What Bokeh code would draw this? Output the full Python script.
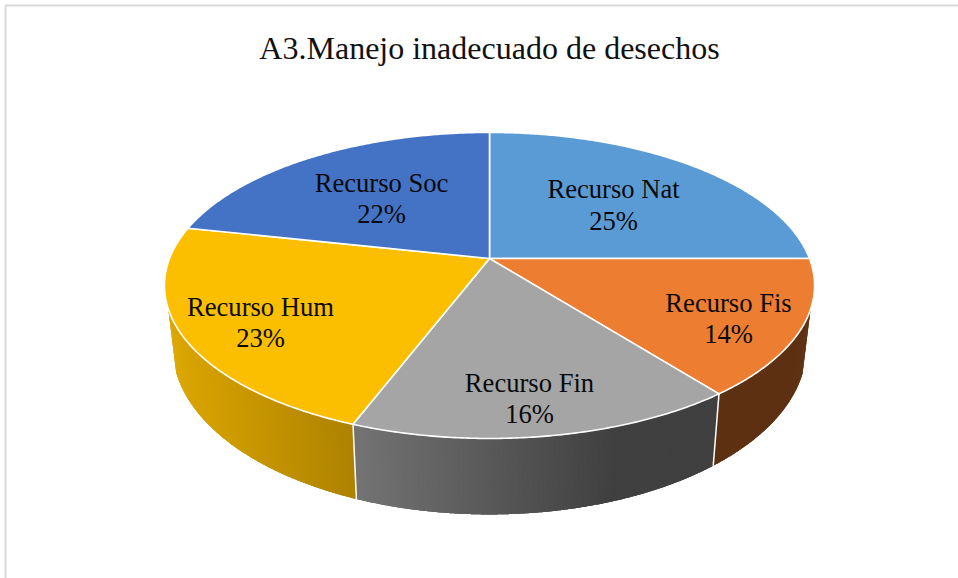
import math
from bokeh.plotting import figure
from bokeh.embed import file_html
from bokeh.resources import INLINE
from bokeh.core.properties import value

# data
title_text = "A3.Manejo inadecuado de desechos"
categories = ["Recurso Nat", "Recurso Fis", "Recurso Fin", "Recurso Hum", "Recurso Soc"]
shares = [25.0, 14.4, 16.4, 22.6, 21.6]
top_colors = ["#5B9BD5", "#ED7D31", "#A5A5A5", "#FBBF00", "#4472C4"]

# side shading: colour at the left and right ends of each wall
side_left = ["#5B9BD5", "#5E3113", "#747474", "#DCA700", "#4472C4"]
side_right = ["#5B9BD5", "#5E3113", "#404040", "#AE8200", "#4472C4"]

# layout of labels (centres, in page pixels)
label_x = [613, 728, 529, 260, 381]
label_y_name = [188, 302, 382, 306, 182]
label_y_pct = [220, 333, 413, 337, 213]

CX, CY = 489.0, 258.0
A, B, K = 148.3, 320.0, 0.176
WALL_TOP = 308.0
X_SHRINK = 0.975


def rim(theta):
    d = 1 + K * math.cos(theta)
    return CX + B * math.sin(theta) / d, CY - A * math.cos(theta) / d


def lower(x, y):
    return CX + X_SHRINK * (x - CX), y + 64 + (y - WALL_TOP) * 0.092


def hex_rgb(h):
    return tuple(int(h[i:i + 2], 16) for i in (1, 3, 5))


def mix(c1, c2, t):
    a, b = hex_rgb(c1), hex_rgb(c2)
    t = max(0.0, min(1.0, t))
    return "#%02x%02x%02x" % tuple(round(a[i] + (b[i] - a[i]) * t) for i in range(3))


p = figure(width=958, height=578, x_range=(0, 958), y_range=(578, 0),
           output_backend="svg", toolbar_location=None, min_border=0,
           outline_line_color=None, background_fill_color="white",
           border_fill_color="white",
           styles={"position": "absolute", "left": "0px", "top": "0px"})
p.xaxis.visible = False
p.yaxis.visible = False
p.grid.visible = False

# chart frame
p.line([5, 5, 958], [578, 5, 5], line_color="#D9D9D9", line_width=2)

total = sum(shares)
edges = [0.0]
for v in shares:
    edges.append(edges[-1] + v / total * 2 * math.pi)

# walls: each band overlaps the next one so that no seams show
for i in range(len(shares)):
    t0, t1 = edges[i], edges[i + 1]
    n = max(6, int((t1 - t0) * 300))
    ts = [t0 + (t1 - t0) * j / n for j in range(n + 1)]
    ts = [t for t in ts if rim(t)[1] >= WALL_TOP]
    if len(ts) < 2:
        continue
    xs_vis = [rim(t)[0] for t in ts]
    xmin, xmax = min(xs_vis), max(xs_vis)
    for j in range(len(ts) - 1):
        seg = ts[j:j + 4]
        top = [rim(t) for t in seg]
        bot = [lower(*q) for q in top]
        xs = [q[0] for q in top] + [q[0] for q in reversed(bot)]
        ys = [q[1] for q in top] + [q[1] for q in reversed(bot)]
        u = (0.5 * (xs_vis[j] + xs_vis[j + 1]) - xmin) / max(1.0, xmax - xmin)
        if i == 2:
            u = min(1.0, u / 0.72)
        p.patch(xs, ys, fill_color=mix(side_left[i], side_right[i], u), line_color=None)

# wall separators
for i in range(1, len(shares)):
    x0, y0 = rim(edges[i])
    if y0 >= WALL_TOP:
        x1, y1 = lower(x0, y0)
        p.line([x0, x1], [y0, y1], line_color="white", line_width=1.5)

# top face
for i in range(len(shares)):
    t0, t1 = edges[i], edges[i + 1]
    n = max(8, int((t1 - t0) * 120))
    pts = [rim(t0 + (t1 - t0) * j / n) for j in range(n + 1)]
    p.patch([CX] + [q[0] for q in pts], [CY] + [q[1] for q in pts],
            fill_color=top_colors[i], line_color="white", line_width=1.6,
            line_join="round")

font = value("Liberation Serif")
p.text([489], [47], text=[title_text], text_font=font, text_font_size="32px",
       text_color="#111111", text_align="center", text_baseline="middle")

pct = [f"{round(v)}%" for v in shares]
p.text(label_x, label_y_name, text=categories, text_font=font, text_font_size="26.6px",
       text_color="#0A0A0A", text_align="center", text_baseline="middle")
p.text(label_x, label_y_pct, text=pct, text_font=font, text_font_size="26.6px",
       text_color="#0A0A0A", text_align="center", text_baseline="middle")

open("out.html", "w").write(file_html(p, INLINE))
